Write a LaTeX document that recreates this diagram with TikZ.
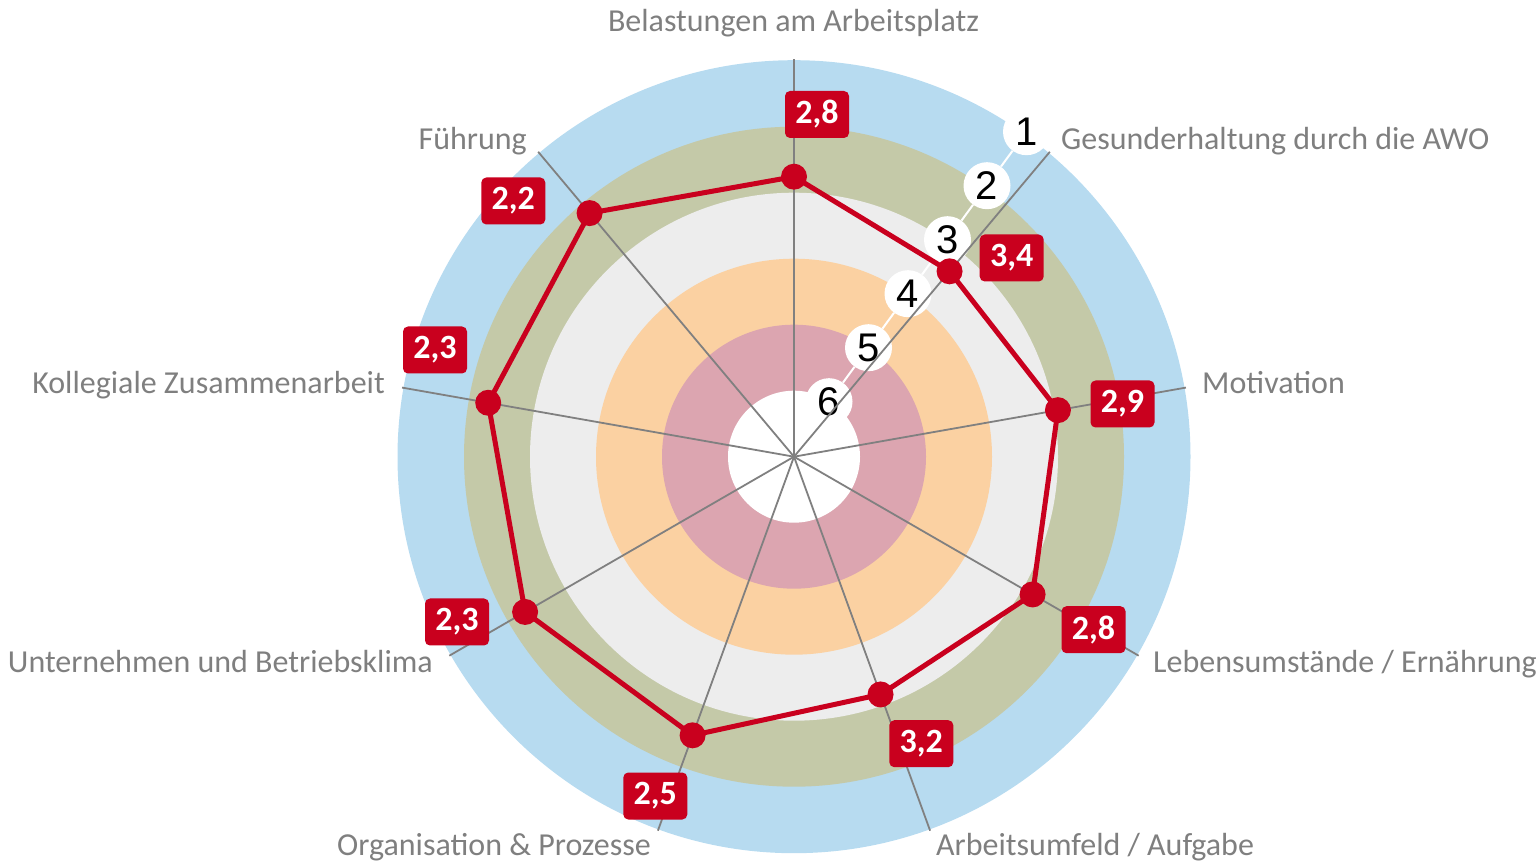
\documentclass[tikz,border=0pt]{standalone}
\usepackage{fontspec}
\setmainfont{Carlito}
\newfontfamily\arialf{Liberation Sans}
\usetikzlibrary{calc}
\definecolor{ringblue}{RGB}{183,219,240}
\definecolor{ringgreen}{RGB}{196,201,168}
\definecolor{ringgray}{RGB}{237,237,237}
\definecolor{ringorange}{RGB}{251,209,162}
\definecolor{ringpink}{RGB}{220,165,176}
\definecolor{datared}{RGB}{201,0,30}
\definecolor{axisgray}{RGB}{128,128,128}
\definecolor{labgray}{RGB}{127,127,127}
\tikzset{
  lab/.style={text=labgray, inner sep=0pt, font=\fontsize{32}{38}\selectfont},
  valbox/.style={fill=datared, rounded corners=5pt, minimum width=64pt, minimum height=47pt,
    inner sep=0pt, text=white, font=\fontsize{34}{38}\selectfont\bfseries},
  numcirc/.style={circle, fill=white, minimum size=47pt, inner sep=0pt,
    font=\arialf\fontsize{40}{44}\selectfont, text=black},
  axisline/.style={draw=axisgray, line width=1.8pt},
  redline/.style={draw=datared, line width=5pt, line join=round},
  reddot/.style={circle, fill=datared, minimum size=26pt, inner sep=0pt}
}
\begin{document}
\begin{tikzpicture}[x=1pt,y=1pt]
\useasboundingbox (0,0) rectangle (1540,863);
\coordinate (O) at (794,406.3);
% rings
\fill[ringblue] (O) circle (396.5pt);
\fill[ringgreen] (O) circle (330pt);
\fill[ringgray] (O) circle (264pt);
\fill[ringorange] (O) circle (198pt);
\fill[ringpink] (O) circle (132pt);
\fill[white] (O) circle (66pt);
% scale numbers
\node[numcirc] (n6) at (829,461.3) {6};
\node[numcirc] (n5) at (868.5,515.3) {5};
\node[numcirc] (n4) at (908,569.3) {4};
\node[numcirc] (n3) at (947.5,623.3) {3};
\node[numcirc] (n2) at (987,677.3) {2};
\node[numcirc] (n1) at (1026.5,731.3) {1};
\draw[white, line width=2pt] (n6) -- (n5) -- (n4) -- (n3) -- (n2) -- (n1);
% axes
\coordinate (a1) at ($(O)+(90:398pt)$);
\coordinate (a2) at ($(O)+(50:398pt)$);
\coordinate (a3) at ($(O)+(10:398pt)$);
\coordinate (a4) at ($(O)+(-30:398pt)$);
\coordinate (a5) at ($(O)+(-70:398pt)$);
\coordinate (a6) at ($(O)+(-110:398pt)$);
\coordinate (a7) at ($(O)+(-150:398pt)$);
\coordinate (a8) at ($(O)+(170:398pt)$);
\coordinate (a9) at ($(O)+(130:398pt)$);
\foreach \i in {1,...,9} {\draw[axisline] (O) -- (a\i);}
% data points
\coordinate (p1) at ($(O)+(90:280pt)$);
\coordinate (p2) at ($(O)+(50:242pt)$);
\coordinate (p3) at ($(O)+(10:268pt)$);
\coordinate (p4) at ($(O)+(-30:275.5pt)$);
\coordinate (p5) at ($(O)+(-70:253pt)$);
\coordinate (p6) at ($(O)+(-110:296.5pt)$);
\coordinate (p7) at ($(O)+(-150:310.5pt)$);
\coordinate (p8) at ($(O)+(170:310.5pt)$);
\coordinate (p9) at ($(O)+(130:318pt)$);
\draw[redline] (p1) -- (p2) -- (p3) -- (p4) -- (p5) -- (p6) -- (p7) -- (p8) -- (p9) -- cycle;
\foreach \i in {1,...,9} {\node[reddot] (d\i) at (p\i) {};}
% value boxes
\node[valbox] (b1) at (817,748.5) {2,8};
\node[valbox] (b2) at (1011.7,605) {3,4};
\node[valbox] (b3) at (1122.5,459) {2,9};
\node[valbox] (b4) at (1093.5,233.3) {2,8};
\node[valbox] (b5) at (921.3,119.3) {3,2};
\node[valbox] (b6) at (655.3,67) {2,5};
\node[valbox] (b7) at (457,241) {2,3};
\node[valbox] (b8) at (435,513) {2,3};
\node[valbox] (b9) at (513.3,662) {2,2};
% axis labels
\node[lab, anchor=base] (l1) at (793.5,831) {Belastungen am Arbeitsplatz};
\node[lab, anchor=base west] (l2) at (1061,713) {Gesunderhaltung durch die AWO};
\node[lab, anchor=base west] (l3) at (1202,469) {Motivation};
\node[lab, anchor=base west] (l4) at (1153,190.5) {Lebensumstände / Ernährung};
\node[lab, anchor=base west] (l5) at (936,8) {Arbeitsumfeld / Aufgabe};
\node[lab, anchor=base east] (l6) at (651,8) {Organisation \& Prozesse};
\node[lab, anchor=base east] (l7) at (433,190.5) {Unternehmen und Betriebsklima};
\node[lab, anchor=base east] (l8) at (385,469) {Kollegiale Zusammenarbeit};
\node[lab, anchor=base east] (l9) at (527,713) {Führung};
\end{tikzpicture}
\end{document}
